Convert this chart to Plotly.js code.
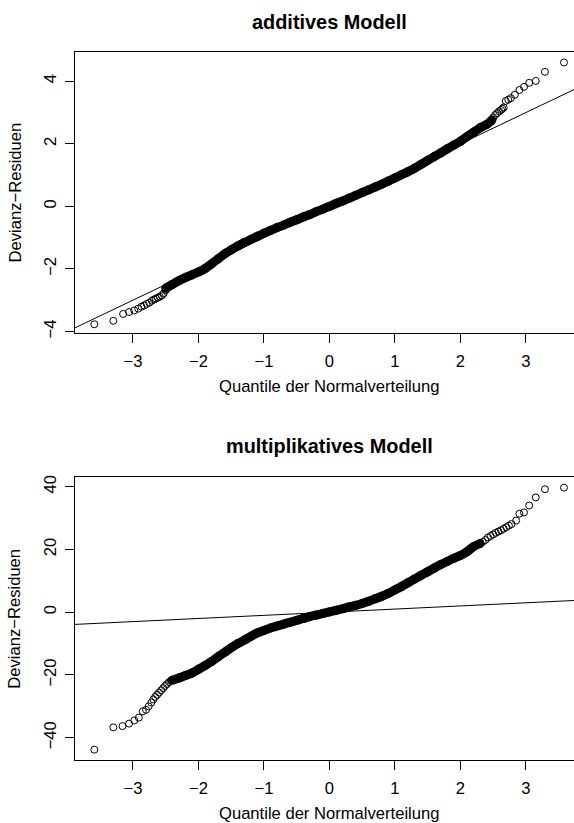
<!DOCTYPE html>
<html>
<head>
<meta charset="utf-8">
<script src="https://cdn.plot.ly/plotly-3.0.1.min.js"></script>
<style>
  html, body { margin: 0; padding: 0; background: #fff; overflow: hidden; }
  #chart { width: 600px; height: 823px; }
</style>
</head>
<body>
<div id="chart"></div>
<script>
// Normal Q-Q plots of deviance residuals for two models.

// Theoretical quantile axis ticks
const xTickVals = [-3, -2, -1, 0, 1, 2, 3];
const xTickText = ['\u22123', '\u22122', '\u22121', '0', '1', '2', '3'];

// ---------- additive model ----------
const addTickVals = [-4, -2, 0, 2, 4];
const addTickText = ['\u22124', '\u22122', '0', '2', '4'];

// sparse lower tail
const addLowX = [-3.59, -3.30, -3.15, -3.06, -2.98, -2.92, -2.87, -2.83, -2.79, -2.75, -2.71, -2.68, -2.65, -2.62, -2.59, -2.56, -2.53, -2.50];
const addLowY = [-3.77, -3.66, -3.44, -3.38, -3.33, -3.27, -3.21, -3.17, -3.12, -3.08, -3.02, -2.98, -2.95, -2.92, -2.89, -2.85, -2.78, -2.68];

// dense central part
const addMidX = [-2.50, -2.40, -2.30, -2.20, -2.10, -2.00, -1.90, -1.80, -1.70, -1.60, -1.50, -1.40, -1.30, -1.20, -1.10, -1.00, -0.90, -0.80, -0.70, -0.60, -0.50, -0.40, -0.30, -0.20, -0.10, 0.00, 0.10, 0.20, 0.30, 0.40, 0.50, 0.60, 0.70, 0.80, 0.90, 1.00, 1.10, 1.20, 1.30, 1.40, 1.50, 1.60, 1.70, 1.80, 1.90, 2.00, 2.10, 2.20, 2.30, 2.40, 2.48];
const addMidY = [-2.62, -2.50, -2.38, -2.28, -2.19, -2.10, -1.99, -1.84, -1.68, -1.52, -1.39, -1.27, -1.16, -1.06, -0.96, -0.86, -0.77, -0.68, -0.60, -0.51, -0.43, -0.34, -0.26, -0.17, -0.09, 0.00, 0.09, 0.17, 0.26, 0.35, 0.44, 0.53, 0.62, 0.71, 0.81, 0.91, 1.01, 1.11, 1.22, 1.34, 1.47, 1.59, 1.71, 1.84, 1.96, 2.08, 2.23, 2.37, 2.51, 2.62, 2.76];

// sparse upper tail
const addHighX = [2.50, 2.53, 2.56, 2.59, 2.62, 2.64, 2.66, 2.69, 2.73, 2.77, 2.83, 2.90, 2.97, 3.05, 3.15, 3.29, 3.58];
const addHighY = [2.84, 2.92, 2.98, 3.04, 3.08, 3.12, 3.16, 3.37, 3.41, 3.46, 3.57, 3.72, 3.82, 3.95, 4.01, 4.30, 4.60];

// ---------- multiplicative model ----------
const mulTickVals = [-40, -20, 0, 20, 40];
const mulTickText = ['\u221240', '\u221220', '0', '20', '40'];

const mulLowX = [-3.59, -3.30, -3.16, -3.06, -2.98, -2.91, -2.85, -2.80, -2.76, -2.72, -2.69, -2.66, -2.63, -2.60, -2.57, -2.54, -2.51, -2.48, -2.45, -2.42];
const mulLowY = [-43.8, -36.7, -36.3, -35.5, -34.5, -33.6, -31.6, -31.1, -30.0, -28.8, -27.8, -27.0, -26.3, -25.6, -24.9, -24.2, -23.5, -22.9, -22.3, -21.8];

const mulMidX = [-2.40, -2.30, -2.20, -2.10, -2.00, -1.90, -1.80, -1.70, -1.60, -1.50, -1.40, -1.30, -1.20, -1.10, -1.00, -0.90, -0.80, -0.70, -0.60, -0.50, -0.40, -0.30, -0.20, -0.10, 0.00, 0.10, 0.20, 0.30, 0.40, 0.50, 0.60, 0.70, 0.80, 0.90, 1.00, 1.10, 1.20, 1.30, 1.40, 1.50, 1.60, 1.70, 1.80, 1.90, 2.00, 2.10, 2.20, 2.30];
const mulMidY = [-21.7, -21.0, -20.2, -19.4, -18.2, -17.0, -15.7, -14.2, -12.8, -11.3, -10.0, -8.9, -7.7, -6.6, -5.8, -5.0, -4.4, -3.8, -3.2, -2.6, -2.0, -1.4, -0.9, -0.4, 0.1, 0.6, 1.1, 1.7, 2.2, 2.8, 3.5, 4.3, 5.1, 6.0, 7.1, 8.2, 9.4, 10.6, 11.8, 12.9, 14.1, 15.2, 16.2, 17.2, 18.1, 19.3, 20.9, 21.9];

const mulHighX = [2.34, 2.38, 2.42, 2.46, 2.50, 2.54, 2.58, 2.62, 2.66, 2.70, 2.74, 2.78, 2.85, 2.90, 2.97, 3.05, 3.15, 3.29, 3.58];
const mulHighY = [22.4, 23.0, 23.8, 24.3, 24.8, 25.3, 25.7, 26.1, 26.6, 27.1, 27.6, 28.1, 29.2, 31.4, 31.8, 34.0, 36.6, 39.2, 39.7];

// reference line y = a + b*x (identity)
const refIntercept = 0;
const refSlope = 1;

// ---------- drawing ----------
const FONT = '"Liberation Sans", Arial, Helvetica, sans-serif';
const xRange = [-3.885, 3.871];
const ink = '#000000';

const openCircle = { symbol: 'circle-open', size: 7, color: ink, line: { width: 1, color: ink } };
const bandCircle = { symbol: 'circle', size: 9, color: ink, line: { width: 0 } };

function tails(xs, ys, xa, ya) {
  return { type: 'scatter', mode: 'markers', x: xs, y: ys, xaxis: xa, yaxis: ya,
           marker: openCircle, hoverinfo: 'skip', showlegend: false };
}
function band(xs, ys, xa, ya) {
  return { type: 'scatter', mode: 'lines+markers', x: xs, y: ys, xaxis: xa, yaxis: ya,
           line: { color: ink, width: 9, shape: 'spline', smoothing: 0.6 }, marker: bandCircle,
           hoverinfo: 'skip', showlegend: false };
}
function refLine(xa, ya) {
  return { type: 'scatter', mode: 'lines', x: xRange,
           y: xRange.map(v => refIntercept + refSlope * v), xaxis: xa, yaxis: ya,
           line: { color: ink, width: 1 }, hoverinfo: 'skip', showlegend: false };
}

const traces = [
  refLine('x', 'y'),
  band(addMidX, addMidY, 'x', 'y'),
  tails(addLowX, addLowY, 'x', 'y'),
  tails(addHighX, addHighY, 'x', 'y'),
  refLine('x2', 'y2'),
  band(mulMidX, mulMidY, 'x2', 'y2'),
  tails(mulLowX, mulLowY, 'x2', 'y2'),
  tails(mulHighX, mulHighY, 'x2', 'y2')
];

const tickFont = { family: FONT, size: 16.6, color: ink };

function xAxis(anchor) {
  return {
    anchor: anchor, domain: [0, 1], range: xRange,
    tickmode: 'array', tickvals: xTickVals, ticktext: xTickText,
    ticks: 'outside', ticklen: 9, tickwidth: 1, tickcolor: ink,
    showline: true, linecolor: ink, linewidth: 1, mirror: true,
    showgrid: false, zeroline: false, tickfont: tickFont,
    ticklabelstandoff: 4, fixedrange: true
  };
}
function yAxis(anchor, domain, range, vals, text) {
  return {
    anchor: anchor, domain: domain, range: range,
    tickmode: 'array', tickvals: vals, ticktext: text, tickangle: -90,
    ticks: 'outside', ticklen: 9, tickwidth: 1, tickcolor: ink,
    showline: true, linecolor: ink, linewidth: 1, mirror: true,
    showgrid: false, zeroline: false, tickfont: tickFont,
    ticklabelstandoff: 2, fixedrange: true
  };
}

function label(text, x, y, opts) {
  return Object.assign({
    text: text, xref: 'paper', yref: 'paper', x: x, y: y,
    xanchor: 'center', yanchor: 'middle', showarrow: false,
    font: { family: FONT, size: 16.6, color: ink }
  }, opts || {});
}

const layout = {
  width: 600, height: 823,
  margin: { l: 75, r: 17, t: 52, b: 63 },
  paper_bgcolor: '#ffffff', plot_bgcolor: '#ffffff',
  showlegend: false,
  xaxis: xAxis('y'),
  yaxis: yAxis('x', [0.6031, 1], [-4.05, 4.935], addTickVals, addTickText),
  xaxis2: xAxis('y2'),
  yaxis2: yAxis('x2', [0, 0.3993], [-47.1, 43.0], mulTickVals, mulTickText),
  annotations: [
    label('<b>additives Modell</b>', 0.5, 1.0424, { font: { family: FONT, size: 19.9, color: ink } }),
    label('<b>multiplikatives Modell</b>', 0.5, 0.4435, { font: { family: FONT, size: 19.9, color: ink } }),
    label('Quantile der Normalverteilung', 0.5, 0.5282),
    label('Quantile der Normalverteilung', 0.5, -0.0749),
    label('Devianz\u2212Residuen', -0.1181, 0.8016, { textangle: -90 }),
    label('Devianz\u2212Residuen', -0.1181, 0.1996, { textangle: -90 })
  ]
};

Plotly.newPlot('chart', traces, layout, { staticPlot: true, displayModeBar: false });
</script>
</body>
</html>
